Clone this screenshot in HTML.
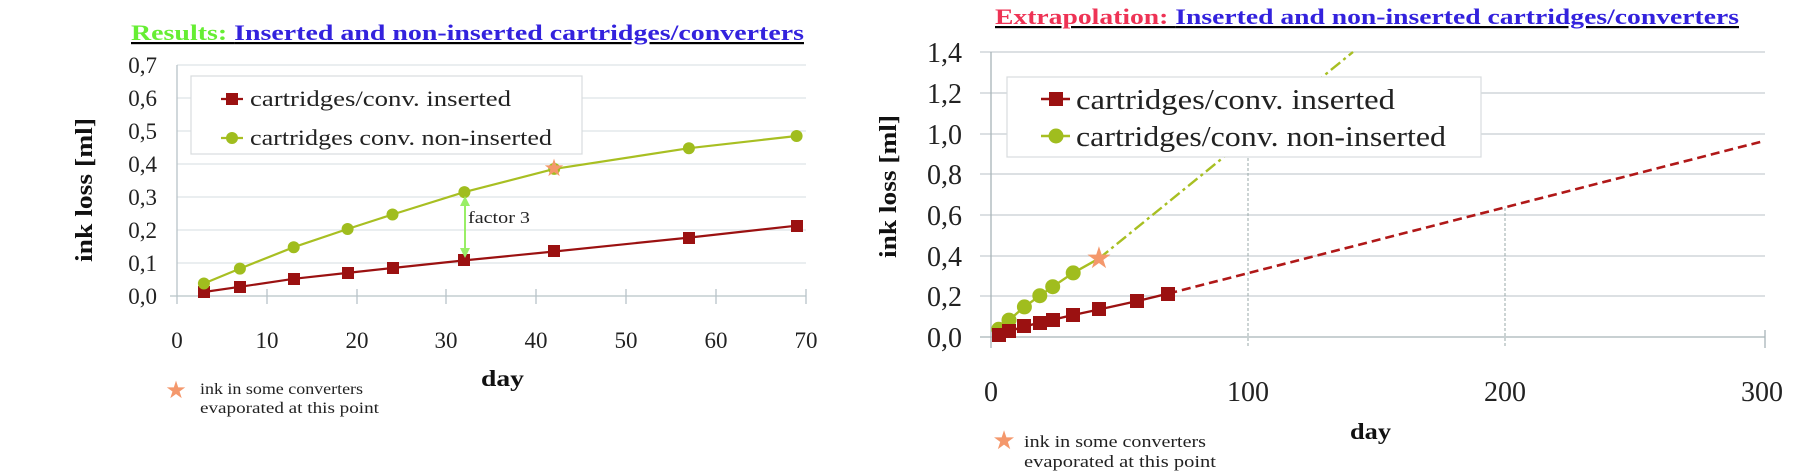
<!DOCTYPE html>
<html><head><meta charset="utf-8"><style>
html,body{margin:0;padding:0;background:#fff;}
svg{display:block;}
text{font-family:"Liberation Serif",serif;}
</style></head><body>
<svg width="1800" height="472" viewBox="0 0 1800 472" xmlns="http://www.w3.org/2000/svg">
<!-- LEFT CHART -->
<text x="131" y="40" font-size="22" font-weight="bold" text-decoration="underline" textLength="673" lengthAdjust="spacingAndGlyphs"><tspan fill="#66ee33">Results: </tspan><tspan fill="#3322dd">Inserted and non-inserted cartridges/converters</tspan></text>
<g stroke="#dde3e6" stroke-width="1.2">
<line x1="177" y1="65" x2="806" y2="65"/><line x1="177" y1="98" x2="806" y2="98"/><line x1="177" y1="131" x2="806" y2="131"/><line x1="177" y1="164" x2="806" y2="164"/><line x1="177" y1="197" x2="806" y2="197"/><line x1="177" y1="230" x2="806" y2="230"/><line x1="177" y1="263" x2="806" y2="263"/>
</g>
<g stroke="#b8c4c8" stroke-width="1.3">
<line x1="170" y1="296" x2="806" y2="296"/><line x1="177" y1="65" x2="177" y2="304"/>
<line x1="267" y1="289" x2="267" y2="304"/><line x1="357" y1="289" x2="357" y2="304"/><line x1="446" y1="289" x2="446" y2="304"/><line x1="536" y1="289" x2="536" y2="304"/><line x1="626" y1="289" x2="626" y2="304"/><line x1="716" y1="289" x2="716" y2="304"/><line x1="806" y1="289" x2="806" y2="304"/>
</g>
<g font-size="23" fill="#222" text-anchor="end">
<text x="157" y="73">0,7</text><text x="157" y="106">0,6</text><text x="157" y="139">0,5</text><text x="157" y="172">0,4</text><text x="157" y="205">0,3</text><text x="157" y="238">0,2</text><text x="157" y="271">0,1</text><text x="157" y="304">0,0</text>
</g>
<g font-size="23" fill="#222" text-anchor="middle">
<text x="177" y="348">0</text><text x="267" y="348">10</text><text x="357" y="348">20</text><text x="446" y="348">30</text><text x="536" y="348">40</text><text x="626" y="348">50</text><text x="716" y="348">60</text><text x="806" y="348">70</text>
</g>
<text transform="translate(92,190) rotate(-90)" x="-72" y="0" font-size="24" font-weight="bold" fill="#111" textLength="144" lengthAdjust="spacingAndGlyphs">ink loss [ml]</text>
<text x="481" y="386" font-size="23" font-weight="bold" fill="#111" textLength="43" lengthAdjust="spacingAndGlyphs">day</text>
<rect x="191" y="76" width="391" height="78" fill="#fff" stroke="#d8dcde" stroke-width="1.2"/>
<polyline points="203.9,292 239.9,286.8 293.7,278.8 347.6,272.9 392.5,268 464.4,260.4 554.2,251.5 688.9,237.6 796.6,225.7" fill="none" stroke="#9b1111" stroke-width="2.2"/>
<polyline points="203.9,283.5 239.9,268.6 293.7,247.2 347.6,229 392.5,214.5 464.4,192.1 554.2,168.9 688.9,148.2 796.6,136" fill="none" stroke="#a8bf22" stroke-width="2.2"/>
<g fill="#9b1111">
<rect x="198" y="286" width="12" height="12"/><rect x="234" y="281" width="12" height="12"/><rect x="288" y="273" width="12" height="12"/><rect x="342" y="267" width="12" height="12"/><rect x="387" y="262" width="12" height="12"/><rect x="458" y="254" width="12" height="12"/><rect x="548" y="245" width="12" height="12"/><rect x="683" y="232" width="12" height="12"/><rect x="791" y="220" width="12" height="12"/>
</g>
<g fill="#a0bd1e">
<circle cx="203.9" cy="283.5" r="6"/><circle cx="239.9" cy="268.6" r="6"/><circle cx="293.7" cy="247.2" r="6"/><circle cx="347.6" cy="229" r="6"/><circle cx="392.5" cy="214.5" r="6"/><circle cx="464.4" cy="192.1" r="6"/><circle cx="554.2" cy="168.9" r="6"/><circle cx="688.9" cy="148.2" r="6"/><circle cx="796.6" cy="136" r="6"/>
</g>
<text x="554" y="176" font-size="24" fill="#f4986c" text-anchor="middle">★</text>
<line x1="465" y1="200" x2="465" y2="254" stroke="#99ee66" stroke-width="2"/>
<polygon points="465,196 460,206 470,206" fill="#99ee66"/><polygon points="465,258 460,248 470,248" fill="#99ee66"/>
<text x="468" y="223" font-size="17" fill="#222" textLength="62" lengthAdjust="spacingAndGlyphs">factor 3</text>
<line x1="221" y1="99" x2="243" y2="99" stroke="#9b1111" stroke-width="2.2"/><rect x="226" y="93" width="12" height="12" fill="#9b1111"/>
<text x="250" y="106" font-size="22" fill="#222" textLength="261" lengthAdjust="spacingAndGlyphs">cartridges/conv. inserted</text>
<line x1="221" y1="138" x2="243" y2="138" stroke="#a8bf22" stroke-width="2.2"/><circle cx="232" cy="138" r="6" fill="#a0bd1e"/>
<text x="250" y="145" font-size="22" fill="#222" textLength="302" lengthAdjust="spacingAndGlyphs">cartridges conv. non-inserted</text>
<text x="176" y="398" font-size="24" fill="#f4986c" text-anchor="middle">★</text>
<text x="200" y="394" font-size="16" fill="#222" textLength="163" lengthAdjust="spacingAndGlyphs">ink in some converters</text>
<text x="200" y="413" font-size="16" fill="#222" textLength="179" lengthAdjust="spacingAndGlyphs">evaporated at this point</text>

<!-- RIGHT CHART -->
<text x="995" y="24" font-size="22" font-weight="bold" text-decoration="underline" textLength="744" lengthAdjust="spacingAndGlyphs"><tspan fill="#ee3355">Extrapolation: </tspan><tspan fill="#3322dd">Inserted and non-inserted cartridges/converters</tspan></text>
<g stroke="#c6ced2" stroke-width="1.2">
<line x1="980" y1="52" x2="1765" y2="52"/><line x1="980" y1="93" x2="1765" y2="93"/><line x1="980" y1="134" x2="1765" y2="134"/><line x1="980" y1="174" x2="1765" y2="174"/><line x1="980" y1="215" x2="1765" y2="215"/><line x1="980" y1="256" x2="1765" y2="256"/><line x1="980" y1="296" x2="1765" y2="296"/>
</g>
<g stroke="#a8b4b8" stroke-width="1.3">
<line x1="980" y1="337" x2="1765" y2="337"/><line x1="991" y1="52" x2="991" y2="348"/><line x1="1765" y1="330" x2="1765" y2="348"/>
</g>
<g stroke="#9aa" stroke-width="1" stroke-dasharray="3,2">
<line x1="1248" y1="158" x2="1248" y2="348"/><line x1="1505" y1="208" x2="1505" y2="348"/>
</g>
<g font-size="28" fill="#222" text-anchor="end">
<text x="962" y="62">1,4</text><text x="962" y="103">1,2</text><text x="962" y="144">1,0</text><text x="962" y="184">0,8</text><text x="962" y="225">0,6</text><text x="962" y="266">0,4</text><text x="962" y="306">0,2</text><text x="962" y="347">0,0</text>
</g>
<g font-size="28" fill="#222" text-anchor="middle">
<text x="991" y="401">0</text><text x="1248" y="401">100</text><text x="1505" y="401">200</text><text x="1762" y="401">300</text>
</g>
<text transform="translate(896,187) rotate(-90)" x="-71" y="0" font-size="24" font-weight="bold" fill="#111" textLength="143" lengthAdjust="spacingAndGlyphs">ink loss [ml]</text>
<text x="1350" y="439" font-size="23" font-weight="bold" fill="#111" textLength="41" lengthAdjust="spacingAndGlyphs">day</text>
<line x1="1168.3" y1="293.6" x2="1762" y2="141.5" stroke="#b01818" stroke-width="2.6" stroke-dasharray="9,5"/>
<line x1="1098.9" y1="258.6" x2="1353" y2="52" stroke="#a8bf22" stroke-width="2.4" stroke-dasharray="12,4,3,4"/>
<rect x="1007" y="77" width="474" height="80" fill="#fff" stroke="#d8dcde" stroke-width="1.2"/>
<polyline points="998.7,334.6 1009,331.3 1024.4,326.4 1039.8,322.7 1052.7,319.7 1073.2,315 1098.9,309.5 1137.5,301 1168.3,293.6" fill="none" stroke="#9b1111" stroke-width="2.4"/>
<polyline points="998.7,329.3 1009,320.1 1024.4,306.9 1039.8,295.7 1052.7,286.7 1073.2,272.9 1098.9,258.6" fill="none" stroke="#a8bf22" stroke-width="2.4"/>
<g fill="#a0bd1e">
<circle cx="998.7" cy="329.3" r="7.5"/><circle cx="1009" cy="320.1" r="7.5"/><circle cx="1024.4" cy="306.9" r="7.5"/><circle cx="1039.8" cy="295.7" r="7.5"/><circle cx="1052.7" cy="286.7" r="7.5"/><circle cx="1073.2" cy="272.9" r="7.5"/>
</g>
<g fill="#9b1111">
<rect x="992" y="328" width="14" height="14"/><rect x="1002" y="324" width="14" height="14"/><rect x="1017" y="319" width="14" height="14"/><rect x="1033" y="316" width="14" height="14"/><rect x="1046" y="313" width="14" height="14"/><rect x="1066" y="308" width="14" height="14"/><rect x="1092" y="302" width="14" height="14"/><rect x="1130" y="294" width="14" height="14"/><rect x="1161" y="287" width="14" height="14"/>
</g>
<text x="1099" y="268" font-size="30" fill="#f4986c" text-anchor="middle">★</text>
<line x1="1041" y1="99" x2="1070" y2="99" stroke="#9b1111" stroke-width="2.4"/><rect x="1049" y="92" width="14" height="14" fill="#9b1111"/>
<text x="1076" y="109" font-size="28" fill="#222" textLength="319" lengthAdjust="spacingAndGlyphs">cartridges/conv. inserted</text>
<line x1="1041" y1="136" x2="1070" y2="136" stroke="#a8bf22" stroke-width="2.4"/><circle cx="1056" cy="136" r="7.5" fill="#a0bd1e"/>
<text x="1076" y="146" font-size="28" fill="#222" textLength="370" lengthAdjust="spacingAndGlyphs">cartridges/conv. non-inserted</text>
<text x="1004" y="449" font-size="26" fill="#f4986c" text-anchor="middle">★</text>
<text x="1024" y="447" font-size="17" fill="#222" textLength="182" lengthAdjust="spacingAndGlyphs">ink in some converters</text>
<text x="1024" y="467" font-size="17" fill="#222" textLength="192" lengthAdjust="spacingAndGlyphs">evaporated at this point</text>
</svg>
</body></html>
